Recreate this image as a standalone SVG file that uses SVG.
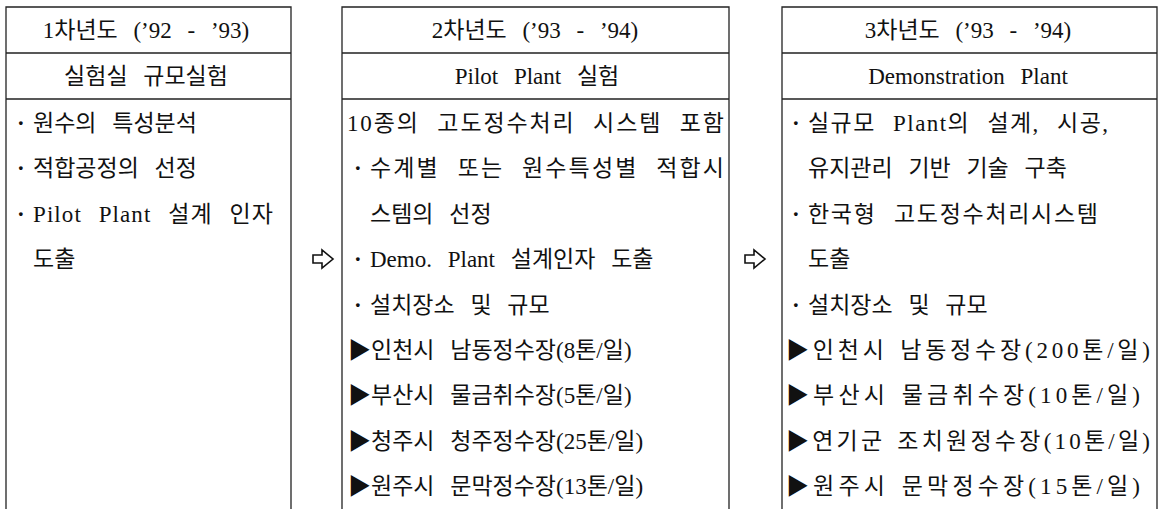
<svg xmlns="http://www.w3.org/2000/svg" width="1163" height="509" viewBox="0 0 1163 509">
<style>
.frame{fill:none;stroke:#222;stroke-width:1.3}
.t{font-family:"Liberation Serif","Noto Sans CJK KR",serif;font-size:23px;fill:#111;word-spacing:10px}
.h{text-anchor:middle}
.w{word-spacing:3px}
.d{font-weight:bold}
.arr{fill:#fff;stroke:#111;stroke-width:1.6;stroke-linejoin:miter}
</style>
<rect width="1163" height="509" fill="#fff"/>
<g id="col1">
<path class="frame" d="M6,509 V7 H291 V509 M6,53 H291 M6,99 H291"/>
<text class="t h" x="146" y="38">1차년도 (’92 - ’93)</text>
<text class="t h" x="146" y="84">실험실 규모실험</text>
<text class="t" x="17" y="131"><tspan class="d">·</tspan><tspan x="33">원수의 특성분석</tspan></text>
<text class="t" x="17" y="176.4"><tspan class="d">·</tspan><tspan x="33">적합공정의 선정</tspan></text>
<text class="t" x="17" y="221.8"><tspan class="d">·</tspan><tspan x="33" textLength="240" lengthAdjust="spacing">Pilot Plant 설계 인자</tspan></text>
<text class="t" x="33" y="267.2">도출</text>
</g>
<g id="col2">
<path class="frame" d="M342,509 V7 H729 V509 M342,53 H729 M342,99 H729"/>
<text class="t h" x="535" y="38">2차년도 (’93 - ’94)</text>
<text class="t h" x="537" y="84">Pilot Plant 실험</text>
<text class="t" x="347" y="131" textLength="377" lengthAdjust="spacing">10종의 고도정수처리 시스템 포함</text>
<text class="t" x="354" y="176.4"><tspan class="d">·</tspan><tspan x="370" textLength="354" lengthAdjust="spacing">수계별 또는 원수특성별 적합시</tspan></text>
<text class="t" x="370" y="221.8">스템의 선정</text>
<text class="t" x="354" y="267.2"><tspan class="d">·</tspan><tspan x="370">Demo. Plant 설계인자 도출</tspan></text>
<text class="t" x="354" y="312.6"><tspan class="d">·</tspan><tspan x="370">설치장소 및 규모</tspan></text>
<text class="t" x="348" y="358">▶인천시 남동정수장(8톤/일)</text>
<text class="t" x="348" y="403.4">▶부산시 물금취수장(5톤/일)</text>
<text class="t" x="348" y="448.8">▶청주시 청주정수장(25톤/일)</text>
<text class="t" x="348" y="494.2">▶원주시 문막정수장(13톤/일)</text>
</g>
<g id="col3">
<path class="frame" d="M782,509 V7 H1157 V509 M782,53 H1157 M782,99 H1157"/>
<text class="t h" x="968" y="38">3차년도 (’93 - ’94)</text>
<text class="t h" x="968" y="84">Demonstration Plant</text>
<text class="t" x="792" y="131"><tspan class="d">·</tspan><tspan x="808" textLength="300" lengthAdjust="spacing">실규모 Plant의 설계, 시공,</tspan></text>
<text class="t" x="808" y="176.4">유지관리 기반 기술 구축</text>
<text class="t" x="792" y="221.8"><tspan class="d">·</tspan><tspan x="808" textLength="290" lengthAdjust="spacing">한국형 고도정수처리시스템</tspan></text>
<text class="t" x="808" y="267.2">도출</text>
<text class="t" x="792" y="312.6"><tspan class="d">·</tspan><tspan x="808">설치장소 및 규모</tspan></text>
<text class="t w" x="786" y="358" textLength="364" lengthAdjust="spacing">▶인천시 남동정수장(200톤/일)</text>
<text class="t w" x="786" y="403.4" textLength="354" lengthAdjust="spacing">▶부산시 물금취수장(10톤/일)</text>
<text class="t w" x="786" y="448.8" textLength="364" lengthAdjust="spacing">▶연기군 조치원정수장(10톤/일)</text>
<text class="t w" x="786" y="494.2" textLength="354" lengthAdjust="spacing">▶원주시 문막정수장(15톤/일)</text>
</g>
<g id="connectors">
<path class="arr" d="M313,255 H322 V250 L333,259 L322,268 V263 H313 Z"/>
<path class="arr" d="M745,255 H754 V250 L765,259 L754,268 V263 H745 Z"/>
</g>
</svg>
